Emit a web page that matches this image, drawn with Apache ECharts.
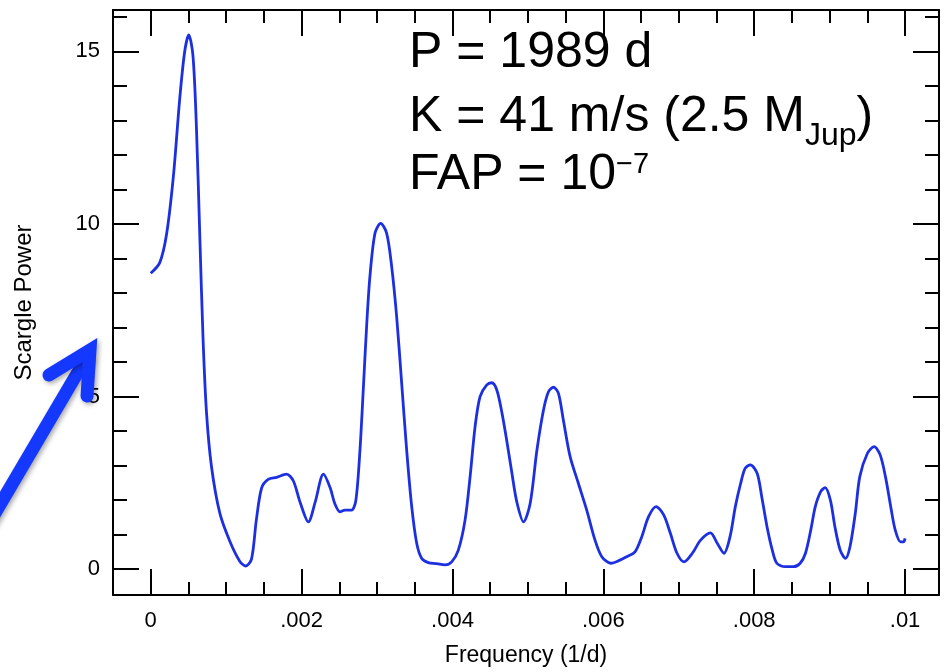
<!DOCTYPE html>
<html>
<head>
<meta charset="utf-8">
<script src="https://cdn.jsdelivr.net/npm/echarts@6/dist/echarts.min.js"></script>
<style>html,body{margin:0;padding:0;background:#fff}#c{width:945px;height:672px}</style>
</head>
<body>
<div id="c"></div>
<script>
// ---- data ----
var freq = [0,0.00012,0.00021,0.0003,0.000385,0.00045,0.000504,0.00056,0.000606,0.00065,0.000695,0.00074,0.000805,0.000916,0.00105,0.00118,0.001257,0.001336,0.0014,0.00147,0.001557,0.00167,0.0018,0.00189,0.00198,0.00209,0.00218,0.00229,0.00238,0.00244,0.00251,0.002575,0.002663,0.00272,0.002774,0.00282,0.002862,0.002906,0.002973,0.003048,0.003128,0.003194,0.00326,0.003327,0.003393,0.00346,0.003526,0.003593,0.00368,0.00379,0.0039,0.00399,0.004078,0.004167,0.004234,0.0043,0.004366,0.004455,0.004522,0.004588,0.004654,0.00472,0.004787,0.004853,0.004942,0.00503,0.00512,0.005207,0.005273,0.00534,0.005405,0.00547,0.00556,0.00567,0.00578,0.00589,0.00598,0.0061,0.00622,0.00631,0.00642,0.00651,0.0066,0.0067,0.0068,0.00689,0.006977,0.00707,0.00718,0.00729,0.00742,0.00751,0.0076,0.00768,0.00775,0.00782,0.00788,0.00795,0.00804,0.0081,0.00817,0.00824,0.0083,0.00841,0.00852,0.00861,0.00868,0.00875,0.00881,0.00888,0.00894,0.00901,0.00907,0.00914,0.00921,0.00927,0.00934,0.0094,0.0095,0.00959,0.00967,0.00974,0.00981,0.00987,0.00994,0.00998,0.01];
var power = [8.57,8.88,9.70,11.37,13.64,14.99,15.48,14.88,12.8,9.7,6.6,4.52,2.98,1.62,0.8,0.23,0.09,0.29,1.42,2.35,2.6,2.66,2.75,2.56,1.94,1.37,1.94,2.75,2.35,1.9,1.66,1.71,1.71,2.0,3.45,5.29,7.03,8.48,9.73,10.02,9.73,8.77,7.32,5.38,3.45,1.81,0.75,0.31,0.19,0.16,0.12,0.21,0.55,1.42,2.68,4.13,5.0,5.34,5.4,5.19,4.55,3.72,2.8,1.95,1.37,1.9,3.45,4.61,5.14,5.27,5.09,4.32,3.26,2.48,1.71,0.84,0.36,0.17,0.26,0.36,0.5,0.94,1.52,1.81,1.57,1.03,0.46,0.21,0.46,0.84,1.05,0.75,0.46,0.94,1.81,2.48,2.92,3.02,2.77,2.1,1.23,0.55,0.17,0.07,0.07,0.17,0.46,1.13,1.81,2.24,2.36,2.0,1.23,0.55,0.31,0.65,1.61,2.68,3.35,3.55,3.31,2.68,1.81,1.13,0.79,0.79,0.89];

var xMajorTicks = [0, 0.002, 0.004, 0.006, 0.008, 0.01];
var xTickLabels = ['0', '.002', '.004', '.006', '.008', '.01'];
var xMinorTicks = [-0.0005,0.0005,0.001,0.0015,0.0025,0.003,0.0035,0.0045,0.005,0.0055,0.0065,0.007,0.0075,0.0085,0.009,0.0095];
var yMajorTicks = [0, 5, 10, 15];
var yTickLabels = ['0', '5', '10', '15'];
var yMinorTicks = [1,2,3,4,6,7,8,9,11,12,13,14,16];

var xName = 'Frequency (1/d)';
var yName = 'Scargle Power';

// ---- chart ----
var FONT = '"Liberation Sans", Arial, Helvetica, sans-serif';
var XMIN = -0.0005, XMAX = 0.01045, YMIN = -0.75, YMAX = 16.2;
var seriesData = freq.map(function (f, i) { return [f, power[i]]; });

function xAxisDef(pos, values, len, showLine, labels) {
  return {
    type: 'value', position: pos, min: XMIN, max: XMAX,
    splitLine: { show: false },
    axisLine: { show: showLine, onZero: false, lineStyle: { color: '#000', width: 2 } },
    axisTick: { show: true, inside: true, length: len, customValues: values, lineStyle: { color: '#000', width: 2 } },
    axisLabel: labels ? {
      show: true, customValues: xMajorTicks, margin: 15,
      fontSize: 22, fontFamily: FONT, color: '#000',
      formatter: function (v) { var k = xMajorTicks.findIndex(function (t) { return Math.abs(t - v) < 1e-9; }); return k >= 0 ? xTickLabels[k] : ''; }
    } : { show: false },
    name: labels ? xName : '', nameLocation: 'middle', nameGap: 49,
    nameTextStyle: { fontSize: 23, fontFamily: FONT, color: '#000' }
  };
}
function yAxisDef(pos, values, len, showLine, labels) {
  return {
    type: 'value', position: pos, min: YMIN, max: YMAX,
    splitLine: { show: false },
    axisLine: { show: showLine, onZero: false, lineStyle: { color: '#000', width: 2 } },
    axisTick: { show: true, inside: true, length: len, customValues: values, lineStyle: { color: '#000', width: 2 } },
    axisLabel: labels ? {
      show: true, customValues: yMajorTicks, margin: 13,
      fontSize: 22, fontFamily: FONT, color: '#000',
      formatter: function (v) { var k = yMajorTicks.indexOf(Math.round(v)); return k >= 0 ? yTickLabels[k] : ''; }
    } : { show: false },
    name: labels ? yName : '', nameLocation: 'middle', nameGap: 77, nameRotate: 90,
    nameTextStyle: { fontSize: 24, fontFamily: FONT, color: '#000' }
  };
}

var chart = echarts.init(document.getElementById('c'), null, { renderer: 'canvas' });
var big = { fontSize: 50, fontFamily: FONT, color: '#000', lineHeight: 60, verticalAlign: 'top' };
chart.setOption({
  animation: false,
  backgroundColor: '#fff',
  grid: { left: 113, top: 10, width: 826, height: 585, containLabel: false },
  xAxis: [
    xAxisDef('bottom', xMajorTicks, 26, true, true),
    xAxisDef('bottom', xMinorTicks, 13, false, false),
    xAxisDef('top', xMajorTicks, 26, true, false),
    xAxisDef('top', xMinorTicks, 13, false, false)
  ],
  yAxis: [
    yAxisDef('left', yMajorTicks, 26, true, true),
    yAxisDef('left', yMinorTicks, 14, false, false),
    yAxisDef('right', yMajorTicks, 26, true, false),
    yAxisDef('right', yMinorTicks, 14, false, false)
  ],
  series: [{
    type: 'line', xAxisIndex: 0, yAxisIndex: 0,
    data: seriesData, showSymbol: false, symbol: 'none',
    smooth: 0.3,
    lineStyle: { color: '#1c30e2', width: 2.8 }
  }],
  graphic: [
    { type: 'text', x: 409, y: 28, z: 100, style: { text: '{a|P = 1989 d}', rich: { a: big } } },
    { type: 'text', x: 409, y: 92, z: 100, style: {
        text: '{a|K = 41 m/s (2.5 M}{b|Jup}{a|)}',
        rich: { a: big, b: { fontSize: 32, fontFamily: FONT, color: '#000', lineHeight: 12, verticalAlign: 'bottom' } } } },
    { type: 'text', x: 409, y: 150, z: 100, style: {
        text: '{a|FAP = 10}{c|\u22127}',
        rich: { a: big, c: { fontSize: 29, fontFamily: FONT, color: '#000', lineHeight: 43, verticalAlign: 'top' } } } },
    { type: 'polyline', z: 110, shape: { points: [[-12, 525], [88, 355]] },
      style: { stroke: '#1538ff', lineWidth: 13, lineCap: 'butt', shadowBlur: 5, shadowColor: 'rgba(0,0,0,0.35)', shadowOffsetX: 2, shadowOffsetY: 2 } },
    { type: 'polyline', z: 111, shape: { points: [[49, 375], [90, 350], [87, 396]] },
      style: { stroke: '#1538ff', lineWidth: 13, lineCap: 'round', lineJoin: 'miter', fill: null, shadowBlur: 5, shadowColor: 'rgba(0,0,0,0.35)', shadowOffsetX: 2, shadowOffsetY: 2 } }
  ]
});
</script>
</body>
</html>
